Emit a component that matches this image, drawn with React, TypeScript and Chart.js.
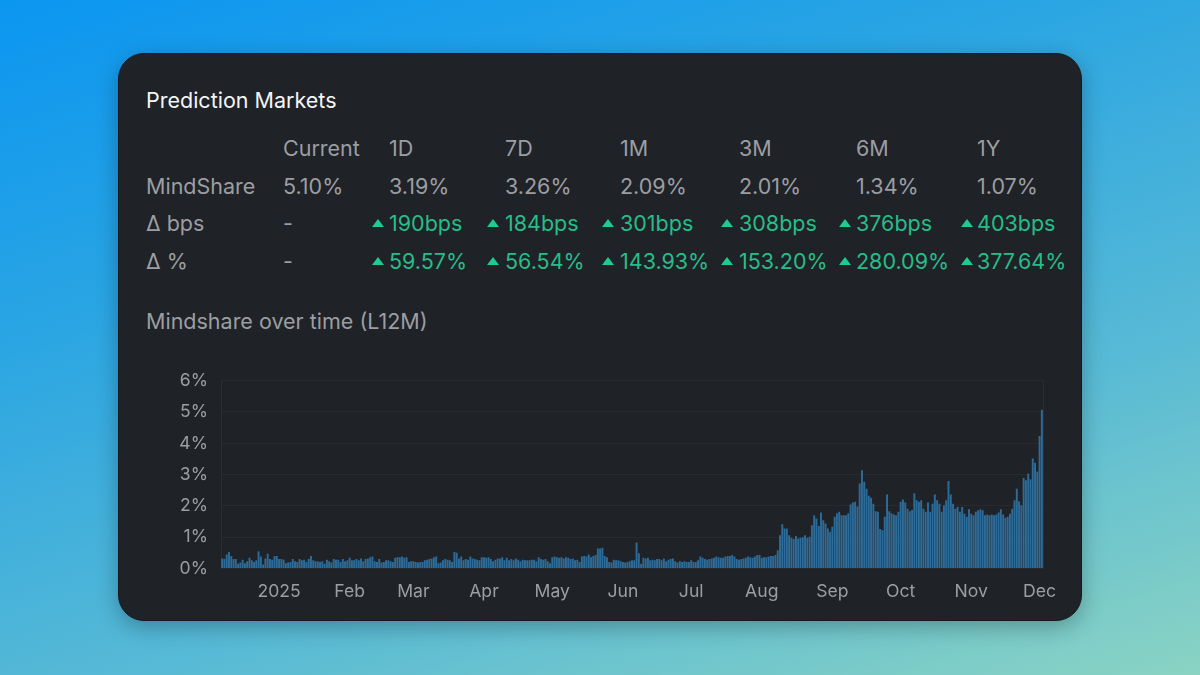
import { useEffect, useRef } from 'react';
import Chart from 'chart.js/auto';

// daily mindshare in %, one list per month
const dec24 = [0.32, 0.30, 0.45, 0.53, 0.40, 0.30, 0.30, 0.15, 0.19, 0.28, 0.17, 0.23, 0.34, 0.26, 0.21, 0.26, 0.55, 0.38, 0.13, 0.32, 0.47, 0.30, 0.28, 0.40, 0.40];
const jan = [0.30, 0.30, 0.28, 0.17, 0.19, 0.21, 0.30, 0.23, 0.21, 0.30, 0.26, 0.28, 0.21, 0.30, 0.40, 0.26, 0.23, 0.23, 0.21, 0.23, 0.15, 0.28, 0.23, 0.19, 0.30, 0.28, 0.28, 0.21, 0.30, 0.23, 0.26];
const feb = [0.34, 0.26, 0.26, 0.30, 0.26, 0.32, 0.23, 0.30, 0.32, 0.36, 0.38, 0.23, 0.21, 0.30, 0.19, 0.21, 0.26, 0.26, 0.23, 0.21, 0.34, 0.36, 0.36, 0.38, 0.34, 0.36, 0.21, 0.23];
const mar = [0.23, 0.21, 0.19, 0.21, 0.21, 0.26, 0.28, 0.30, 0.32, 0.36, 0.38, 0.17, 0.19, 0.26, 0.30, 0.28, 0.26, 0.21, 0.53, 0.50, 0.32, 0.38, 0.26, 0.30, 0.28, 0.38, 0.32, 0.30, 0.28, 0.26, 0.36];
const apr = [0.36, 0.34, 0.36, 0.30, 0.23, 0.28, 0.32, 0.32, 0.36, 0.26, 0.34, 0.26, 0.30, 0.26, 0.32, 0.28, 0.23, 0.28, 0.26, 0.26, 0.26, 0.28, 0.28, 0.23, 0.36, 0.30, 0.28, 0.30, 0.23, 0.17];
const may = [0.36, 0.38, 0.36, 0.34, 0.36, 0.32, 0.36, 0.34, 0.30, 0.32, 0.26, 0.28, 0.21, 0.38, 0.40, 0.38, 0.45, 0.36, 0.40, 0.43, 0.64, 0.64, 0.66, 0.40, 0.36, 0.21, 0.19, 0.28, 0.26, 0.26, 0.23];
const jun = [0.21, 0.19, 0.21, 0.23, 0.26, 0.26, 0.83, 0.49, 0.15, 0.34, 0.32, 0.34, 0.26, 0.28, 0.26, 0.30, 0.30, 0.26, 0.32, 0.23, 0.28, 0.30, 0.32, 0.23, 0.19, 0.23, 0.21, 0.23, 0.21, 0.21];
const jul = [0.26, 0.21, 0.21, 0.26, 0.38, 0.34, 0.30, 0.28, 0.30, 0.32, 0.34, 0.38, 0.36, 0.34, 0.34, 0.38, 0.40, 0.40, 0.43, 0.38, 0.30, 0.28, 0.30, 0.32, 0.34, 0.38, 0.36, 0.34, 0.38, 0.43, 0.43];
const aug = [0.34, 0.36, 0.36, 0.38, 0.40, 0.40, 0.43, 0.58, 1.06, 1.41, 1.28, 1.28, 1.06, 0.98, 0.94, 1.04, 0.96, 0.98, 1.00, 1.06, 0.98, 1.01, 1.38, 1.70, 1.60, 1.36, 1.79, 1.54, 1.44, 1.28, 1.17];
const sep = [1.33, 1.65, 1.76, 1.81, 1.70, 1.70, 1.70, 1.76, 2.04, 2.11, 2.13, 1.98, 2.71, 3.14, 2.77, 2.55, 2.32, 2.26, 2.07, 1.83, 1.81, 1.26, 1.22, 1.65, 2.36, 1.83, 1.76, 1.72, 1.70, 1.81];
const oct = [2.13, 2.20, 2.11, 1.91, 1.83, 1.87, 2.40, 2.18, 2.13, 2.18, 1.91, 1.81, 2.11, 1.81, 2.07, 2.36, 2.18, 2.07, 1.81, 2.02, 2.18, 2.79, 2.36, 2.07, 1.91, 1.96, 1.81, 1.96, 1.75, 1.65, 1.89];
const nov = [1.75, 1.70, 1.81, 1.86, 1.89, 1.86, 1.70, 1.72, 1.70, 1.72, 1.70, 1.72, 1.79, 1.89, 1.72, 1.62, 1.65, 1.75, 1.91, 2.18, 2.55, 2.15, 2.02, 2.89, 2.82, 3.03, 2.85, 3.51, 3.38, 3.10];
const dec25 = [4.23, 5.07];

const monthNames = ['Dec24', 'Jan', 'Feb', 'Mar', 'Apr', 'May', 'Jun', 'Jul', 'Aug', 'Sep', 'Oct', 'Nov', 'Dec'];
const monthValues = [dec24, jan, feb, mar, apr, may, jun, jul, aug, sep, oct, nov, dec25];
const firstDays = [7, 1, 1, 1, 1, 1, 1, 1, 1, 1, 1, 1, 1];

const categories = monthNames.flatMap((m, i) => monthValues[i].map((_, d) => `${m} ${d + firstDays[i]}`));
const values = monthValues.flat();

const tickLabels: Record<string, string> = {
    'Jan 1': '2025', 'Feb 1': 'Feb', 'Mar 1': 'Mar', 'Apr 1': 'Apr', 'May 1': 'May', 'Jun 1': 'Jun',
    'Jul 1': 'Jul', 'Aug 1': 'Aug', 'Sep 1': 'Sep', 'Oct 1': 'Oct', 'Nov 1': 'Nov', 'Dec 1': 'Dec',
};

// table above the chart
const periods = ['1D', '7D', '1M', '3M', '6M', '1Y'];
const mindshareRow = ['3.19%', '3.26%', '2.09%', '2.01%', '1.34%', '1.07%'];
const bpsRow = ['190bps', '184bps', '301bps', '308bps', '376bps', '403bps'];
const pctRow = ['59.57%', '56.54%', '143.93%', '153.20%', '280.09%', '377.64%'];
const columnX = [389, 505, 620, 739, 856, 977];
const triangleX = [372, 487, 602, 721, 839, 961];

const FONT = 'Inter, sans-serif';
const GREY = '#9c9ea2';
const GREEN = '#27bd88';

const Text = ({ x, y, color = GREY, size = 21.5, children }: any) => (
    <span
        style={{
            position: 'absolute',
            left: x,
            top: y,
            transform: 'translateY(-50%)',
            color,
            fontSize: size,
            lineHeight: 1,
            whiteSpace: 'nowrap',
        }}
    >
        {children}
    </span>
);

const Up = ({ x, y }: { x: number; y: number }) => (
    <span
        style={{
            position: 'absolute',
            left: x,
            top: y - 5,
            width: 0,
            height: 0,
            borderLeft: '6px solid transparent',
            borderRight: '6px solid transparent',
            borderBottom: '8px solid #1fcb90',
        }}
    />
);

const App = () => {
    const canvasRef = useRef<HTMLCanvasElement>(null);

    useEffect(() => {
        if (!canvasRef.current) return;
        const chart = new Chart(canvasRef.current, {
            type: 'bar',
            data: {
                labels: categories,
                datasets: [
                    {
                        label: 'Mindshare',
                        data: values,
                        backgroundColor: '#2d6b98',
                        barPercentage: 0.86,
                        categoryPercentage: 1,
                    },
                ],
            },
            options: {
                animation: false,
                responsive: false,
                layout: { padding: { top: 5.5, right: 17, left: 0, bottom: 0 } },
                plugins: { legend: { display: false }, tooltip: { enabled: false } },
                scales: {
                    x: {
                        grid: { display: false },
                        border: { display: false },
                        afterFit: (axis: any) => {
                            axis.height = 41.5;
                        },
                        ticks: {
                            autoSkip: false,
                            maxRotation: 0,
                            padding: 5,
                            color: GREY,
                            font: { family: FONT, size: 17.6 },
                            callback: function (this: any, value: any) {
                                return tickLabels[this.getLabelForValue(value)] ?? '';
                            },
                        },
                    },
                    y: {
                        min: 0,
                        max: 6,
                        afterFit: (axis: any) => {
                            axis.width = 81;
                        },
                        grid: { color: 'rgba(255,255,255,0.04)', drawTicks: false },
                        border: { color: 'rgba(255,255,255,0.05)' },
                        ticks: {
                            stepSize: 1,
                            padding: 13,
                            color: GREY,
                            font: { family: FONT, size: 17.6 },
                            callback: (v: any) => `${v}%`,
                        },
                    },
                    right: {
                        position: 'right',
                        min: 0,
                        max: 6,
                        afterFit: (axis: any) => {
                            axis.width = 0;
                        },
                        grid: { display: false },
                        border: { color: 'rgba(255,255,255,0.05)' },
                        ticks: { display: false },
                    },
                },
            },
        });
        return () => chart.destroy();
    }, []);

    return (
        <div
            style={{
                position: 'fixed',
                inset: 0,
                width: 1200,
                height: 675,
                overflow: 'hidden',
                fontFamily: FONT,
                background: 'linear-gradient(162deg, #0b96f1 0%, #2aa5e3 32%, #58bad5 68%, #8ad3c3 100%)',
            }}
        >
            <div
                style={{
                    position: 'absolute',
                    left: 118,
                    top: 53,
                    width: 964,
                    height: 568,
                    boxSizing: 'border-box',
                    borderRadius: 26,
                    background: '#1f2227',
                    border: '1px solid #17191d',
                    boxShadow: '0 6px 22px rgba(0,0,0,0.28)',
                }}
            />
            <Text x={146} y={101} color="#f4f5f6">Prediction Markets</Text>

            <Text x={283} y={149}>Current</Text>
            {periods.map((p, i) => (
                <Text key={p} x={columnX[i]} y={149}>{p}</Text>
            ))}

            <Text x={146} y={187}>MindShare</Text>
            <Text x={283} y={187}>5.10%</Text>
            {mindshareRow.map((v, i) => (
                <Text key={v} x={columnX[i]} y={187}>{v}</Text>
            ))}

            <Text x={146} y={224}>Δ bps</Text>
            <Text x={283} y={224}>-</Text>
            {bpsRow.map((v, i) => (
                <span key={v}>
                    <Up x={triangleX[i]} y={224} />
                    <Text x={columnX[i]} y={224} color={GREEN}>{v}</Text>
                </span>
            ))}

            <Text x={146} y={262}>Δ %</Text>
            <Text x={283} y={262}>-</Text>
            {pctRow.map((v, i) => (
                <span key={v}>
                    <Up x={triangleX[i]} y={262} />
                    <Text x={columnX[i]} y={262} color={GREEN}>{v}</Text>
                </span>
            ))}

            <Text x={146} y={322}>Mindshare over time (L12M)</Text>

            <canvas
                ref={canvasRef}
                width={920}
                height={253}
                style={{ position: 'absolute', left: 140, top: 357, width: 920, height: 253 }}
            />
        </div>
    );
};

export default App;
